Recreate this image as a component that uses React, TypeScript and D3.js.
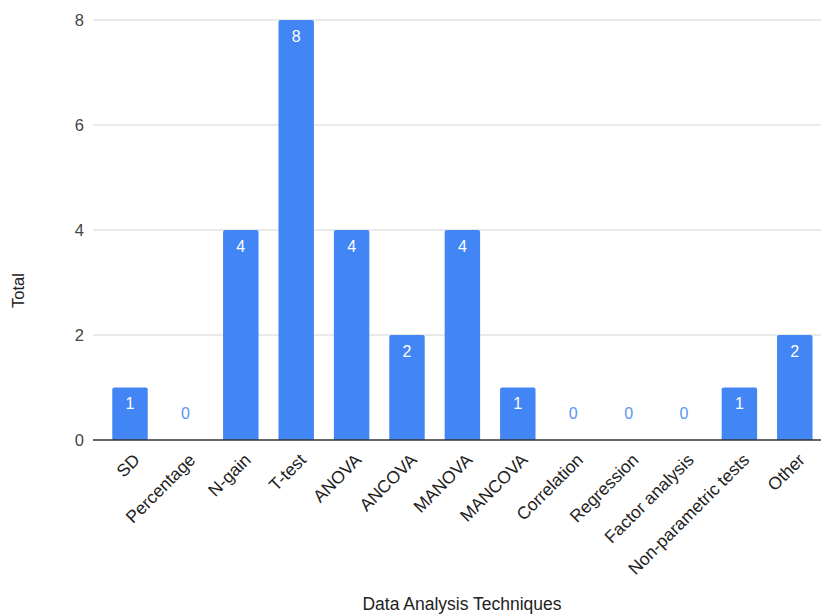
import React from "react";
import * as d3 from "d3";

const categories = ["SD", "Percentage", "N-gain", "T-test", "ANOVA", "ANCOVA", "MANOVA", "MANCOVA", "Correlation", "Regression", "Factor analysis", "Non-parametric tests", "Other"];
const totals = [1, 0, 4, 8, 4, 2, 4, 1, 0, 0, 0, 1, 2];
const yTicks = [0, 2, 4, 6, 8];
const xTitle = "Data Analysis Techniques";
const yTitle = "Total";

const W = 821;
const H = 614;
const FONT = "'Liberation Sans', Arial, sans-serif";

export default function App() {
  const x = d3.scaleBand<string>().domain(categories).range([102.3, 822.5]).paddingInner(0.36).paddingOuter(0.18);
  const y = d3.scaleLinear().domain([0, 8]).range([440, 20]);
  const bw = x.bandwidth();
  return (
    <svg width={W} height={H} style={{ position: "absolute", left: 0, top: 0, background: "#fff" }}>
      {yTicks.map((t) => (
        <g key={t}>
          {t !== 0 && <line x1={93} x2={W} y1={y(t)} y2={y(t)} stroke="#d4d4d4" strokeWidth={1} />}
          <text x={84} y={y(t) + 6} textAnchor="end" fontFamily={FONT} fontSize={16.5} fill="#444">{t}</text>
        </g>
      ))}
      {categories.map((c, i) => {
        const v = totals[i];
        const x0 = x(c)!;
        const cx = x0 + bw / 2;
        const top = y(v);
        const r = 2;
        const path = v > 0
          ? `M${x0},${y(0)}V${top + r}Q${x0},${top} ${x0 + r},${top}H${x0 + bw - r}Q${x0 + bw},${top} ${x0 + bw},${top + r}V${y(0)}Z`
          : "";
        return (
          <g key={c}>
            {v > 0 && <path d={path} fill="#4285f4" />}
            {v > 0 ? (
              <text x={cx} y={top + 21.5} textAnchor="middle" fontFamily={FONT} fontSize={16} fill="#ffffff">{v}</text>
            ) : (
              <text x={cx} y={y(0) - 21.5} textAnchor="middle" fontFamily={FONT} fontSize={16} fill="#5b95f5">{v}</text>
            )}
            <text transform={`translate(${cx + 11},${461}) rotate(-45)`} textAnchor="end" fontFamily={FONT} fontSize={17.5} fill="#222">{c}</text>
          </g>
        );
      })}
      <line x1={93} x2={W} y1={y(0)} y2={y(0)} stroke="#333" strokeWidth={1.5} />
      <text transform={`translate(24,290.5) rotate(-90)`} textAnchor="middle" fontFamily={FONT} fontSize={16.5} fill="#222">{yTitle}</text>
      <text x={462} y={610} textAnchor="middle" fontFamily={FONT} fontSize={17.5} fill="#222">{xTitle}</text>
    </svg>
  );
}
